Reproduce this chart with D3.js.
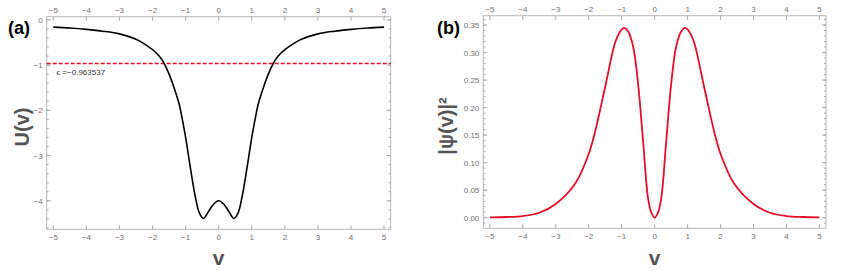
<!DOCTYPE html>
<html><head><meta charset="utf-8">
<script src="https://cdn.jsdelivr.net/npm/d3@7"></script>
<style>body{margin:0;background:#fff}svg{display:block}text{font-family:"Liberation Sans",Arial,sans-serif}</style>
</head><body><svg id="c" width="845" height="271"></svg>
<script>
// Panel (a): potential U(v)
const uV = [-5,-4.5,-4,-3.5,-3,-2.5,-2.25,-2,-1.8,-1.65,-1.5,-1.35,-1.2,-1.1,-1.0,-0.86,-0.71,-0.58,-0.46,-0.31,-0.15,0,
             0.15,0.31,0.46,0.58,0.71,0.86,1.0,1.1,1.2,1.35,1.5,1.65,1.8,2,2.25,2.5,3,3.5,4,4.5,5];
const uVal = [-0.16,-0.18,-0.21,-0.25,-0.31,-0.43,-0.53,-0.66,-0.80,-0.96,-1.2,-1.5,-1.85,-2.2,-2.6,-3.25,-3.9,-4.28,-4.39,-4.24,-4.07,-4.0,
             -4.07,-4.24,-4.39,-4.28,-3.9,-3.25,-2.6,-2.2,-1.85,-1.5,-1.2,-0.96,-0.80,-0.66,-0.53,-0.43,-0.31,-0.25,-0.21,-0.18,-0.16];
const epsilon = -0.963537;
const epsLabel = "\u03F5 =\u22120.963537";
// Panel (b): |psi(v)|^2
const pV = [-5,-4.5,-4,-3.5,-3,-2.4,-2,-1.8,-1.5,-1.2,-1.05,-0.93,-0.8,-0.65,-0.5,-0.35,-0.2,-0.1,0,
            0.1,0.2,0.35,0.5,0.65,0.8,0.93,1.05,1.2,1.5,1.8,2,2.4,3,3.5,4,4.5,5];
const pVal = [0.0005,0.0012,0.003,0.009,0.025,0.063,0.116,0.158,0.238,0.318,0.338,0.345,0.338,0.31,0.242,0.138,0.035,0.009,0,
            0.009,0.035,0.138,0.242,0.31,0.338,0.345,0.338,0.318,0.238,0.158,0.116,0.063,0.025,0.009,0.003,0.0012,0.0005];
const xTicks = [-5,-4,-3,-2,-1,0,1,2,3,4,5];
const uTicks = [0,-1,-2,-3,-4];
const pTicks = [0,0.05,0.10,0.15,0.20,0.25,0.30,0.35];

const svg = d3.select("#c");
const fmtMinus = s => String(s).replace("-", "\u2212");

function panel(o) {
  const g = svg.append("g");
  const x = d3.scaleLinear().domain([-5.2, 5.2]).range([o.left, o.right]);
  const y = d3.scaleLinear().domain(o.ydom).range([o.bottom, o.top]);
  // frame
  g.append("rect").attr("x", o.left).attr("y", o.top).attr("width", o.right - o.left).attr("height", o.bottom - o.top)
    .attr("fill", "none").attr("stroke", "#b8b8b8").attr("stroke-width", 1);
  const tc = "#a8a8a8";
  // x ticks
  xTicks.forEach(t => {
    g.append("line").attr("x1", x(t)).attr("x2", x(t)).attr("y1", o.bottom).attr("y2", o.bottom - 4).attr("stroke", tc);
    g.append("line").attr("x1", x(t)).attr("x2", x(t)).attr("y1", o.top).attr("y2", o.top + 4).attr("stroke", tc);
  });
  // y minor ticks
  const [y0, y1] = o.ydom;
  for (let v = Math.ceil(Math.min(y0, y1) / o.minor - 1e-9) * o.minor; v <= Math.max(y0, y1) + 1e-9; v += o.minor) {
    g.append("line").attr("x1", o.left).attr("x2", o.left + 2).attr("y1", y(v)).attr("y2", y(v)).attr("stroke", tc);
    g.append("line").attr("x1", o.right).attr("x2", o.right - 2).attr("y1", y(v)).attr("y2", y(v)).attr("stroke", tc);
  }
  o.yticks.forEach(t => {
    g.append("line").attr("x1", o.left).attr("x2", o.left + 4).attr("y1", y(t)).attr("y2", y(t)).attr("stroke", tc);
    g.append("line").attr("x1", o.right).attr("x2", o.right - 4).attr("y1", y(t)).attr("y2", y(t)).attr("stroke", tc);
  });
  // tick labels
  const lc = "#707070";
  const xl = g.append("g").attr("font-size", 8).attr("fill", lc).attr("text-anchor", "middle");
  xTicks.forEach(t => {
    xl.append("text").attr("x", x(t)).attr("y", o.bottom + 10.5).text(fmtMinus(t));
    xl.append("text").attr("x", x(t)).attr("y", o.top - 4).text(fmtMinus(t));
  });
  const yl = g.append("g").attr("font-size", 8).attr("fill", lc).attr("text-anchor", "end");
  o.yticks.forEach(t => {
    yl.append("text").attr("x", o.left - 4).attr("y", y(t) + 3).text(o.yfmt(t));
  });
  // titles
  g.append("text").attr("x", o.labX).attr("y", 34).attr("font-size", 18).attr("font-weight", "bold").attr("fill", "#000").text(o.label);
  g.append("text").attr("x", (o.left + o.right) / 2).attr("y", 265).attr("text-anchor", "middle")
    .attr("font-size", 21).attr("font-weight", "bold").attr("fill", "#555").text("v");
  g.append("text").attr("transform", `translate(${o.ytX},${(o.top + o.bottom) / 2 + 4}) rotate(-90)`)
    .attr("text-anchor", "middle").attr("font-size", 20).attr("font-weight", "bold").attr("fill", "#555").text(o.ytitle);
  return {g, x, y};
}

// Panel a
const A = panel({left: 46.7, right: 390.7, top: 16.7, bottom: 229.3, ydom: [-4.63, 0.07], yticks: uTicks, minor: 0.2,
  yfmt: t => fmtMinus(t), label: "(a)", labX: 8, ytitle: "U(v)", ytX: 28.5});
A.g.append("line").attr("x1", A.x(-5.2)).attr("x2", A.x(5.2)).attr("y1", A.y(epsilon)).attr("y2", A.y(epsilon))
  .attr("stroke", "#e0102a").attr("stroke-width", 1.4).attr("stroke-dasharray", "4,2");
A.g.append("text").attr("x", A.x(-4.9)).attr("y", A.y(epsilon) + 12).attr("font-size", 8).attr("fill", "#333").text(epsLabel);
const uData = uV.map((v, i) => [v, uVal[i]]);
A.g.append("path").datum(uData).attr("fill", "none").attr("stroke", "#000").attr("stroke-width", 1.6)
  .attr("d", d3.line().x(d => A.x(d[0])).y(d => A.y(d[1])).curve(d3.curveCatmullRom.alpha(0.5)));

// Panel b
const B = panel({left: 483.3, right: 826, top: 15.7, bottom: 228.3, ydom: [-0.0193, 0.367], yticks: pTicks, minor: 0.01,
  yfmt: t => t.toFixed(2), label: "(b)", labX: 437, ytitle: "|\u03C8(v)|\u00B2", ytX: 453});
const pData = pV.map((v, i) => [v, pVal[i]]);
B.g.append("path").datum(pData).attr("fill", "none").attr("stroke", "#e0102a").attr("stroke-width", 1.8)
  .attr("d", d3.line().x(d => B.x(d[0])).y(d => B.y(d[1])).curve(d3.curveCatmullRom.alpha(0.5)));
</script></body></html>
